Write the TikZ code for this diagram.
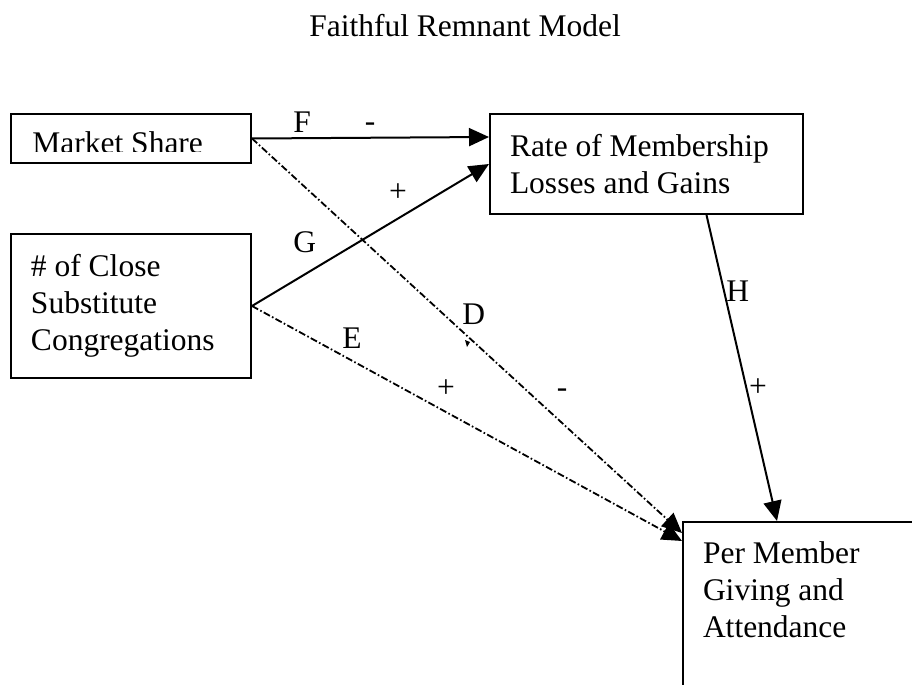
\documentclass[tikz,border=0pt]{standalone}
\usepackage{fontspec}
\setmainfont{Liberation Serif}
\usetikzlibrary{arrows.meta}
\newcommand\plainspaces{\spaceskip=0pt\relax\xspaceskip=0pt\relax}

\begin{document}
\begin{tikzpicture}[x=0.5pt,y=-0.5pt,
  font=\fontsize{15.75}{18.5}\selectfont,
  box/.style={draw, line width=1pt, anchor=north west, align=left, inner xsep=10pt},
  lbl/.style={anchor=base west, inner sep=0pt},
  sign/.style={anchor=base, inner sep=0pt},
  path/.style={line width=1pt, -{Triangle[length=10pt,width=9pt]}},
  dashpath/.style={path, line width=0.9pt, dash pattern=on 3.5pt off 1.2pt on 0.8pt off 1.2pt}]
  \useasboundingbox (0,0) rectangle (912,685);
  \clip (0,0) rectangle (912,685);

  \node[sign] (title) at (465,36) {Faithful Remnant Model};

  \node[box, minimum width=120pt, minimum height=24.5pt] (ms) at (10,113) {};
  \begin{scope}
    \clip (10,113) rectangle (250,151);
    \node[lbl] (mstext) at (32,153) {Market Share};
  \end{scope}

  \node[box, minimum width=120pt, minimum height=72pt, text width=100pt] (close) at (10,233)
    {\plainspaces\# of Close\\Substitute\\Congregations};
  \node[box, minimum width=156.5pt, minimum height=50pt, text width=136.5pt] (rate) at (489,113)
    {\plainspaces Rate of Membership\\Losses and Gains};
  \node[box, inner ysep=10pt, text width=130pt, text depth=100pt] (pm) at (682,521)
    {\plainspaces Per Member\\Giving and\\Attendance};

  \draw[path] (ms.east) -- ([yshift=-12pt]rate.north west);
  \draw[path] (close.east) -- (rate.west);
  \draw[dashpath] (ms.east) -- ([yshift=-6pt]pm.north west);
  \draw[dashpath] (close.east) -- ([yshift=-10pt]pm.north west);
  \draw[path] ([xshift=30pt]rate.south) -- ([xshift=47.5pt]pm.north west);

  \fill (465,340) -- (470,342) -- (467,347) -- cycle;

  \node[lbl] (f) at (293,133) {F};
  \node[sign] (fsign) at (370,131) {-};
  \node[lbl] (g) at (293,252) {G};
  \node[sign] (gsign) at (398,201) {+};
  \node[lbl] (d) at (462,324) {D};
  \node[sign] (dsign) at (562,397) {-};
  \node[lbl] (e) at (342,348) {E};
  \node[sign] (esign) at (446,397) {+};
  \node[lbl] (h) at (726,301) {H};
  \node[sign] (hsign) at (758,396) {+};
\end{tikzpicture}
\end{document}
